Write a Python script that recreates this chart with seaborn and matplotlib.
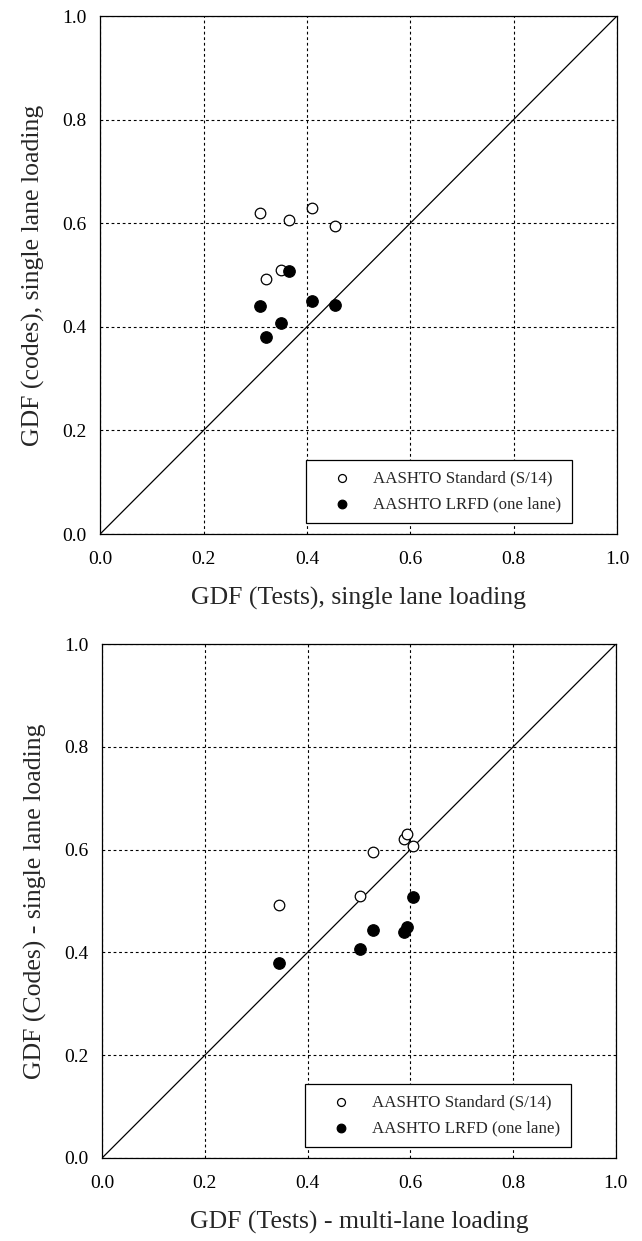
import pandas as pd
import matplotlib.pyplot as plt
import seaborn as sns

# GDF from tests (single lane and multi-lane loading), one value per girder
tests_single = [0.31, 0.365, 0.41, 0.455, 0.32, 0.35]
tests_multi = [0.588, 0.606, 0.593, 0.528, 0.345, 0.502]

# GDF from codes, single lane loading
aashto_std = [0.62, 0.607, 0.63, 0.595, 0.493, 0.51]
aashto_lrfd = [0.44, 0.507, 0.45, 0.443, 0.38, 0.407]

ticks = [0.0, 0.2, 0.4, 0.6, 0.8, 1.0]
std_label = "AASHTO Standard (S/14)"
lrfd_label = "AASHTO LRFD (one lane)"


def draw_panel(ax, x, xlabel, ylabel):
    df = pd.DataFrame({"x": x, "std": aashto_std, "lrfd": aashto_lrfd})
    ax.axline((0, 0), slope=1, color="black", lw=0.9, zorder=1)
    sns.scatterplot(data=df, x="x", y="std", ax=ax, s=58, marker="o",
                    facecolor="white", edgecolor="black", linewidth=0.9,
                    label=std_label, zorder=3)
    sns.scatterplot(data=df, x="x", y="lrfd", ax=ax, s=68, marker="o",
                    color="black", edgecolor="black", linewidth=0.9,
                    label=lrfd_label, zorder=3)
    ax.set_xlim(0, 1)
    ax.set_ylim(0, 1)
    ax.set_xticks(ticks)
    ax.set_yticks(ticks)
    ax.set_xticklabels([f"{t:.1f}" for t in ticks])
    ax.set_yticklabels([f"{t:.1f}" for t in ticks])
    ax.grid(True, color="black", linestyle=(0, (2.5, 2.5)), linewidth=0.8)
    ax.tick_params(direction="in", length=8, width=0.9, labelsize=14,
                   colors="black")
    ax.tick_params(axis="x", pad=12)
    ax.tick_params(axis="y", pad=10)
    for sp in ax.spines.values():
        sp.set_color("black")
        sp.set_linewidth(0.9)
    ax.set_xlabel(xlabel, fontsize=18.5, labelpad=14)
    ax.set_ylabel(ylabel, fontsize=18.5, labelpad=12)
    leg = ax.legend(loc="lower right", bbox_to_anchor=(0.913, 0.021),
                    fontsize=12.2, frameon=True, fancybox=False,
                    edgecolor="black", framealpha=1, borderpad=0.65,
                    handlelength=3.0, handletextpad=0.3, labelspacing=0.55,
                    markerscale=0.75, borderaxespad=0)
    leg.get_frame().set_linewidth(0.9)


sns.set_theme(style="white")
plt.rcParams["font.family"] = ["Liberation Serif", "DejaVu Serif"]

fig = plt.figure(figsize=(6.42, 12.41), dpi=100)
ax1 = fig.add_axes([0.156, 0.5697, 0.805, 0.4174])
ax2 = fig.add_axes([0.159, 0.0669, 0.80, 0.414])

draw_panel(ax1, tests_single, "GDF (Tests), single lane loading",
           "GDF (codes), single lane loading")
draw_panel(ax2, tests_multi, "GDF (Tests) - multi-lane loading",
           "GDF (Codes) - single lane loading")

fig.savefig("out.png", dpi=100)
